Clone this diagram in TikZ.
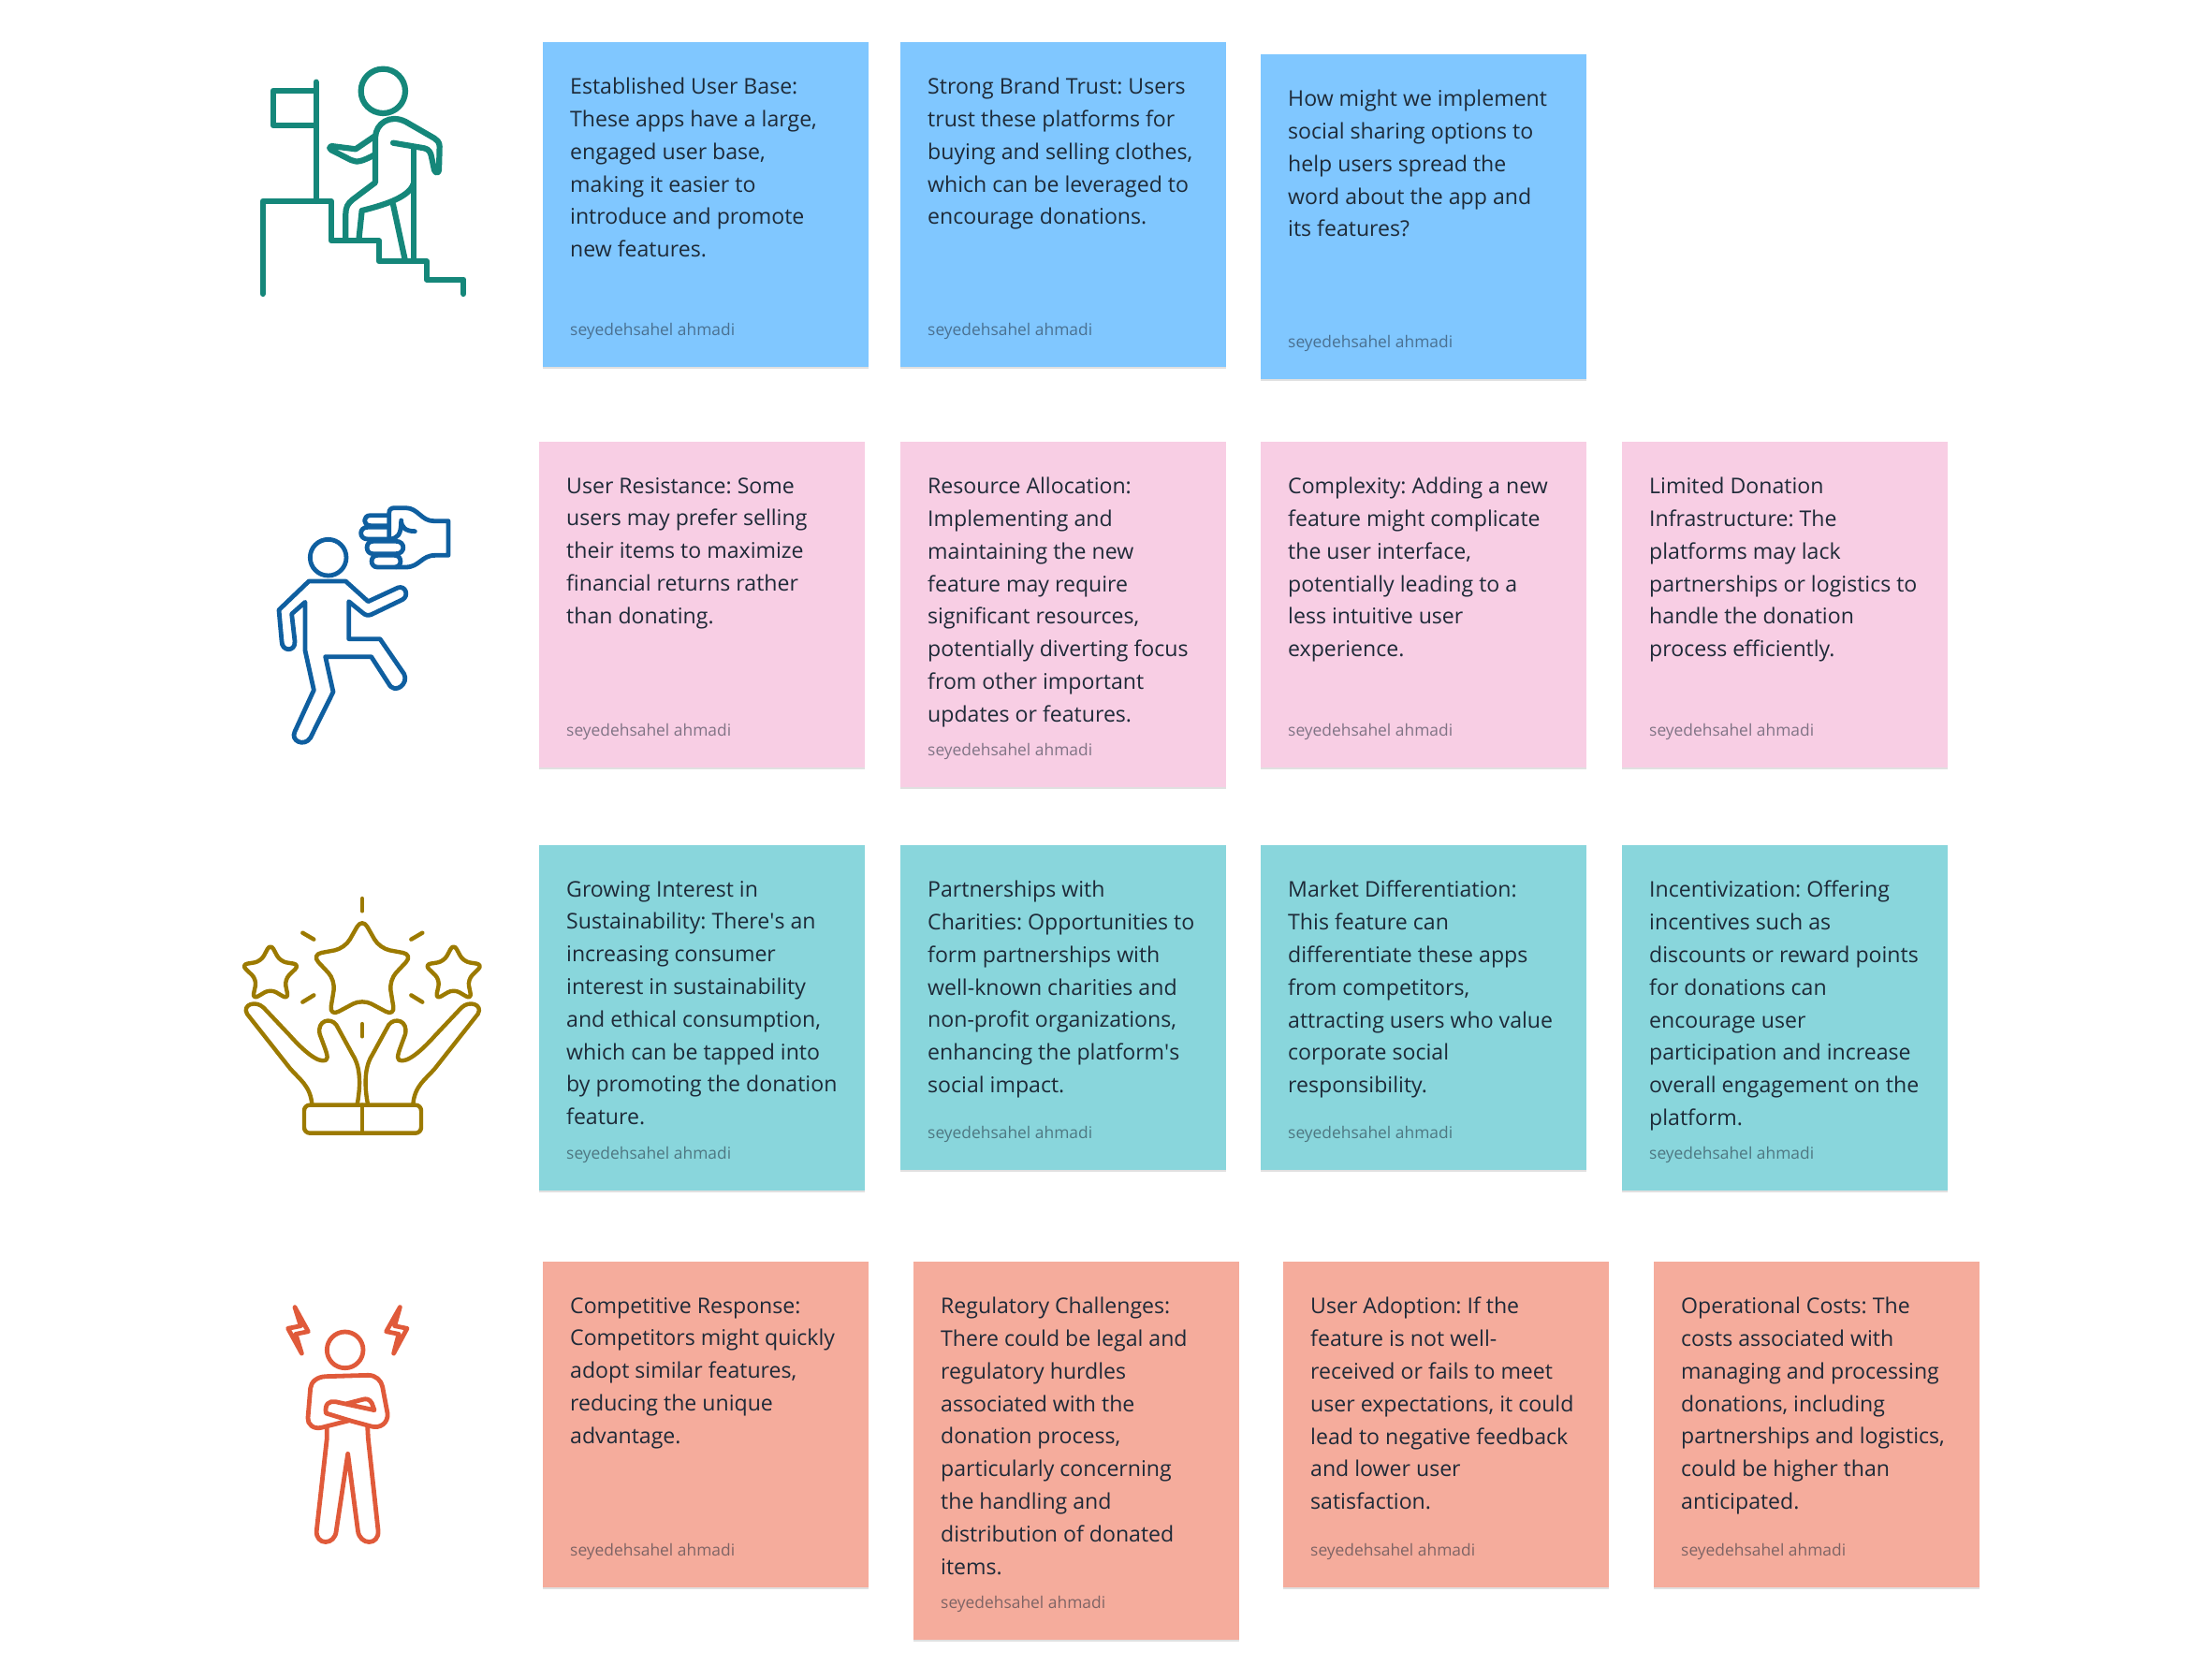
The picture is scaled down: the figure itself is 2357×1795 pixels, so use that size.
\documentclass[tikz,border=0pt]{standalone}
\usepackage{fontspec}
\setmainfont{Open Sans}
\frenchspacing
\usetikzlibrary{shadows}
\definecolor{sky}{HTML}{80C7FF}
\definecolor{rose}{HTML}{F8CEE4}
\definecolor{aqua}{HTML}{89D6DC}
\definecolor{coral}{HTML}{F5AC9C}
\definecolor{ink}{HTML}{1E2A38}
\definecolor{climbc}{HTML}{15877A}
\definecolor{punchc}{HTML}{0F5FA0}
\definecolor{starc}{HTML}{9C7A00}
\definecolor{angryc}{HTML}{E05A3A}
\begin{document}
\begin{tikzpicture}[x=1pt,y=-1pt]
    \tikzstyle{note}=[anchor=north west,inner sep=0,minimum width=348,drop shadow={shadow xshift=0pt,shadow yshift=-2pt,opacity=0.12,fill=black}]
    \tikzstyle{body}=[anchor=north west,inner sep=0,align=left,text=ink,font=\fontsize{23.1}{34.8}\selectfont,execute at begin node=\rule{0pt}{20pt}]
    \tikzstyle{sign}=[anchor=base west,inner sep=0,text=ink,opacity=0.55,font=\fontsize{17.4}{20}\selectfont]
    \tikzstyle{glyph}=[line cap=round,line join=round]
    \useasboundingbox (0,0) rectangle (2357,1795);

    % first row
    \node[note,fill=sky,minimum height=347](s1) at (580,45){};
    \node[body](s1t) at ([xshift=29,yshift=-38]s1.north west){Established User Base:\\These apps have a large,\\engaged user base,\\making it easier to\\introduce and promote\\new features.};
    \node[sign](s1s) at ([xshift=29,yshift=34]s1.south west){seyedehsahel ahmadi};
    \node[note,fill=sky,minimum height=347](s2) at (962,45){};
    \node[body](s2t) at ([xshift=29,yshift=-38]s2.north west){Strong Brand Trust: Users\\trust these platforms for\\buying and selling clothes,\\which can be leveraged to\\encourage donations.};
    \node[sign](s2s) at ([xshift=29,yshift=34]s2.south west){seyedehsahel ahmadi};
    \node[note,fill=sky,minimum height=347](s3) at (1347,58){};
    \node[body](s3t) at ([xshift=29,yshift=-38]s3.north west){How might we implement\\social sharing options to\\help users spread the\\word about the app and\\its features?};
    \node[sign](s3s) at ([xshift=29,yshift=34]s3.south west){seyedehsahel ahmadi};

    % second row
    \node[note,fill=rose,minimum height=348](w1) at (576,472){};
    \node[body](w1t) at ([xshift=29,yshift=-38]w1.north west){User Resistance: Some\\users may prefer selling\\their items to maximize\\financial returns rather\\than donating.};
    \node[sign](w1s) at ([xshift=29,yshift=34]w1.south west){seyedehsahel ahmadi};
    \node[note,fill=rose,minimum height=369](w2) at (962,472){};
    \node[body](w2t) at ([xshift=29,yshift=-38]w2.north west){Resource Allocation:\\Implementing and\\maintaining the new\\feature may require\\significant resources,\\potentially diverting focus\\from other important\\updates or features.};
    \node[sign](w2s) at ([xshift=29,yshift=34]w2.south west){seyedehsahel ahmadi};
    \node[note,fill=rose,minimum height=348](w3) at (1347,472){};
    \node[body](w3t) at ([xshift=29,yshift=-38]w3.north west){Complexity: Adding a new\\feature might complicate\\the user interface,\\potentially leading to a\\less intuitive user\\experience.};
    \node[sign](w3s) at ([xshift=29,yshift=34]w3.south west){seyedehsahel ahmadi};
    \node[note,fill=rose,minimum height=348](w4) at (1733,472){};
    \node[body](w4t) at ([xshift=29,yshift=-38]w4.north west){Limited Donation\\Infrastructure: The\\platforms may lack\\partnerships or logistics to\\handle the donation\\process efficiently.};
    \node[sign](w4s) at ([xshift=29,yshift=34]w4.south west){seyedehsahel ahmadi};

    % third row
    \node[note,fill=aqua,minimum height=369](o1) at (576,903){};
    \node[body](o1t) at ([xshift=29,yshift=-38]o1.north west){Growing Interest in\\Sustainability: There\textquotesingle s an\\increasing consumer\\interest in sustainability\\and ethical consumption,\\which can be tapped into\\by promoting the donation\\feature.};
    \node[sign](o1s) at ([xshift=29,yshift=34]o1.south west){seyedehsahel ahmadi};
    \node[note,fill=aqua,minimum height=347](o2) at (962,903){};
    \node[body](o2t) at ([xshift=29,yshift=-38]o2.north west){Partnerships with\\Charities: Opportunities to\\form partnerships with\\well-known charities and\\non-profit organizations,\\enhancing the platform\textquotesingle s\\social impact.};
    \node[sign](o2s) at ([xshift=29,yshift=34]o2.south west){seyedehsahel ahmadi};
    \node[note,fill=aqua,minimum height=347](o3) at (1347,903){};
    \node[body](o3t) at ([xshift=29,yshift=-38]o3.north west){Market Differentiation:\\This feature can\\differentiate these apps\\from competitors,\\attracting users who value\\corporate social\\responsibility.};
    \node[sign](o3s) at ([xshift=29,yshift=34]o3.south west){seyedehsahel ahmadi};
    \node[note,fill=aqua,minimum height=369](o4) at (1733,903){};
    \node[body](o4t) at ([xshift=29,yshift=-38]o4.north west){Incentivization: Offering\\incentives such as\\discounts or reward points\\for donations can\\encourage user\\participation and increase\\overall engagement on the\\platform.};
    \node[sign](o4s) at ([xshift=29,yshift=34]o4.south west){seyedehsahel ahmadi};

    % fourth row
    \node[note,fill=coral,minimum height=348](t1) at (580,1348){};
    \node[body](t1t) at ([xshift=29,yshift=-38]t1.north west){Competitive Response:\\Competitors might quickly\\adopt similar features,\\reducing the unique\\advantage.};
    \node[sign](t1s) at ([xshift=29,yshift=34]t1.south west){seyedehsahel ahmadi};
    \node[note,fill=coral,minimum height=404](t2) at (976,1348){};
    \node[body](t2t) at ([xshift=29,yshift=-38]t2.north west){Regulatory Challenges:\\There could be legal and\\regulatory hurdles\\associated with the\\donation process,\\particularly concerning\\the handling and\\distribution of donated\\items.};
    \node[sign](t2s) at ([xshift=29,yshift=34]t2.south west){seyedehsahel ahmadi};
    \node[note,fill=coral,minimum height=348](t3) at (1371,1348){};
    \node[body](t3t) at ([xshift=29,yshift=-38]t3.north west){User Adoption: If the\\feature is not well-\\received or fails to meet\\user expectations, it could\\lead to negative feedback\\and lower user\\satisfaction.};
    \node[sign](t3s) at ([xshift=29,yshift=34]t3.south west){seyedehsahel ahmadi};
    \node[note,fill=coral,minimum height=348](t4) at (1767,1348){};
    \node[body](t4t) at ([xshift=29,yshift=-38]t4.north west){Operational Costs: The\\costs associated with\\managing and processing\\donations, including\\partnerships and logistics,\\could be higher than\\anticipated.};
    \node[sign](t4s) at ([xshift=29,yshift=34]t4.south west){seyedehsahel ahmadi};

    % climber
    \begin{scope}[shift={(240,40)},scale=1/3,glyph,draw=climbc,line width=6.2]
      \draw (508,172) circle (71);
      \draw (293,143) -- (293,525);
      \draw (293,171) -- (155,171) -- (155,282) -- (293,282);
      \draw (122,822) -- (122,525) -- (342,525) -- (342,652) -- (495,652) -- (495,718) -- (648,718) -- (648,776) -- (766,776) -- (766,822);
      \draw (483,315) -- (420,358) -- (342,348) .. controls (335,350) and (335,358) .. (342,361) -- (405,393) .. controls (425,402) and (440,398) .. (483,375);
      \draw (540,338) -- (640,355) .. controls (655,358) and (660,370) .. (662,378) -- (672,425) .. controls (676,436) and (686,436) .. (687,425) -- (689,350) .. controls (689,335) and (680,328) .. (672,323) -- (580,270) .. controls (530,245) and (485,275) .. (483,320) -- (483,465) -- (410,520) .. controls (395,532) and (388,545) .. (388,565) -- (388,650);
      \draw (430,650) -- (440,555) .. controls (500,540) and (590,515) .. (605,470);
      \draw (605,360) -- (605,712);
      \draw (540,535) -- (578,712);
    \end{scope}

    % runner and fist
    \begin{scope}[shift={(270,520)},scale=1/3,glyph,draw=punchc,line width=4.8]
      \draw (242,227) circle (58);
      \draw (84,395) -- (180,303) -- (298,303) -- (370,368) -- (465,324) .. controls (490,315) and (502,350) .. (480,362) -- (380,410) .. controls (368,414) and (362,412) .. (352,404) -- (308,368) -- (308,488) -- (408,488) -- (485,600) .. controls (502,630) and (455,670) .. (435,630) -- (380,545) -- (233,545) -- (258,658) -- (185,805) .. controls (165,835) and (120,815) .. (135,785) -- (196,652) -- (168,525) -- (168,370) -- (125,408) -- (135,495) .. controls (138,530) and (93,530) .. (93,495) -- cycle;
      \draw (435,92) -- (378,92) .. controls (352,92) and (352,125) .. (378,125) -- (435,125);
      \draw (435,130) -- (368,130) .. controls (340,130) and (340,168) .. (368,168) -- (440,168);
      \draw (385,175) -- (460,175) .. controls (490,175) and (490,215) .. (460,215) -- (385,215) .. controls (360,215) and (360,175) .. (385,175);
      \draw (400,220) -- (455,220) .. controls (480,220) and (480,258) .. (455,258) -- (400,258) .. controls (375,258) and (375,220) .. (400,220);
      \draw (437,165) -- (437,85) .. controls (437,72) and (445,68) .. (455,68) -- (490,68) .. controls (530,68) and (540,110) .. (580,110) -- (627,110) -- (627,220) -- (585,220) .. controls (540,220) and (535,258) .. (490,258) -- (460,258);
      \draw (440,168) .. controls (465,165) and (476,155) .. (476,108) .. controls (476,130) and (490,143) .. (520,143);
    \end{scope}

    % hands and stars
    \begin{scope}[shift={(240,940)},scale=1/3,glyph,draw=starc,line width=4.4]
      \draw (441,60) -- (441,100);
      \draw (441,462) -- (441,502);
      \draw (250,170) -- (286,191);
      \draw (634,170) -- (598,191);
      \draw (250,392) -- (286,370);
      \draw (634,392) -- (598,370);
      \draw[rounded corners=11] (441,122) -- (497,220) -- (604,240) -- (527,322) -- (546,438) -- (441,382) -- (336,438) -- (355,322) -- (278,240) -- (385,220) -- cycle;
      \foreach \dx in {0,587}{
        \draw[rounded corners=7,shift={(\dx,0)}] (147,204) -- (178,262) -- (241,272) -- (192,320) -- (205,384) -- (147,350) -- (89,384) -- (103,320) -- (53,272) -- (116,262) -- cycle;
      }
      \draw (280,720) .. controls (275,660) and (240,640) .. (210,605) -- (72,430) .. controls (55,400) and (100,385) .. (125,410) -- (210,500) .. controls (250,545) and (300,590) .. (325,578) .. controls (335,570) and (325,550) .. (305,495) .. controls (295,450) and (340,440) .. (358,465) -- (410,560) .. controls (430,590) and (440,640) .. (425,720);
      \draw (604,720) .. controls (609,660) and (644,640) .. (674,605) -- (812,430) .. controls (829,400) and (784,385) .. (759,410) -- (674,500) .. controls (634,545) and (584,590) .. (559,578) .. controls (549,570) and (559,550) .. (579,495) .. controls (589,450) and (544,440) .. (526,465) -- (474,560) .. controls (454,590) and (444,640) .. (459,720);
      \draw[rounded corners=6] (255,722) rectangle (630,812);
      \draw (441,722) -- (441,812);
    \end{scope}

    % angry figure
    \begin{scope}[shift={(280,1380)},scale=1/3,glyph,draw=angryc,line width=4.8]
      \draw (266,187) circle (58);
      \draw (105,50) -- (148,128) -- (108,136) -- (127,198) -- (83,118) -- (124,110) -- cycle;
      \draw (442,50) -- (398,128) -- (438,136) -- (422,198) -- (465,118) -- (425,110) -- cycle;
      \draw (205,272) -- (340,268) .. controls (365,268) and (382,285) .. (386,305) -- (402,390) .. controls (405,420) and (380,440) .. (350,432) -- (280,413) -- (190,436) .. controls (165,442) and (145,425) .. (147,405) -- (155,310) .. controls (157,290) and (175,273) .. (205,272);
      \draw (280,413) -- (205,390) .. controls (200,360) and (215,350) .. (235,353) -- (360,380) -- (352,358) .. controls (345,345) and (335,342) .. (322,346) -- (268,360);
      \draw (208,438) -- (208,470) -- (175,765) .. controls (170,815) and (235,815) .. (238,765) -- (275,520) -- (307,765) .. controls (312,815) and (377,815) .. (372,765) -- (340,470) -- (338,432);
    \end{scope}
  \end{tikzpicture}
\end{document}
